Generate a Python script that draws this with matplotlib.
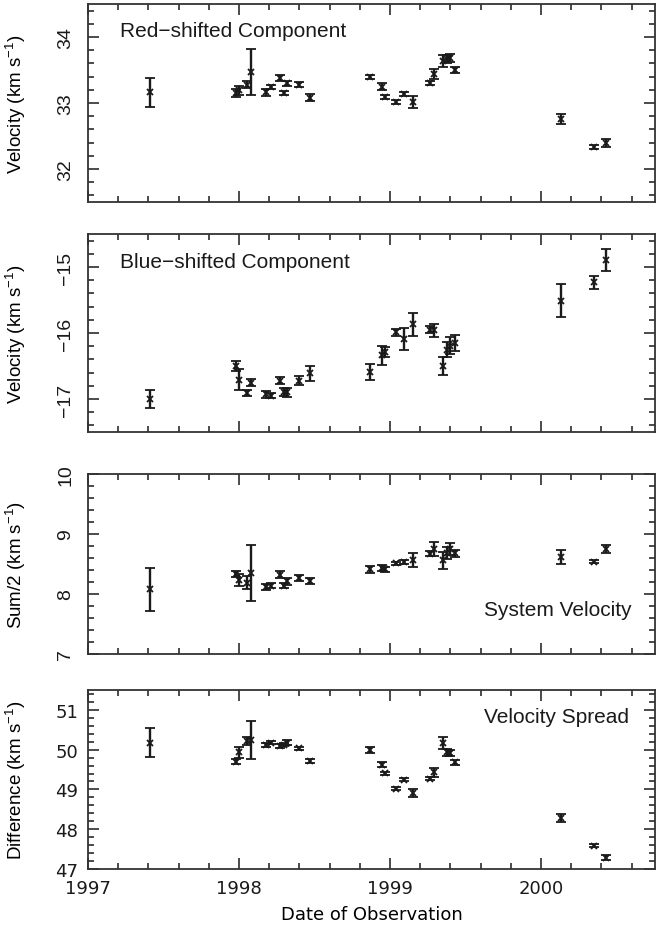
import matplotlib
matplotlib.use('Agg')
import matplotlib.pyplot as plt
from matplotlib.ticker import MultipleLocator

plt.rcParams['mathtext.default'] = 'regular'

# ---- data ----
dates = [1997.408, 1997.98, 1998.00, 1998.05, 1998.077, 1998.18, 1998.21,
         1998.27, 1998.295, 1998.32, 1998.40, 1998.47, 1998.865, 1998.945,
         1998.97, 1999.04, 1999.09, 1999.15, 1999.265, 1999.29, 1999.35,
         1999.375, 1999.40, 1999.43, 2000.13, 2000.35, 2000.43]

red = [33.16, 33.15, 33.19, 33.28, 33.47, 33.16, 33.24, 33.38, 33.15, 33.30,
       33.28, 33.08, 33.40, 33.25, 33.09, 33.02, 33.14, 33.02, 33.30, 33.44,
       33.64, 33.67, 33.68, 33.50, 32.76, 32.33, 32.39]
red_err = [0.22, 0.06, 0.07, 0.06, 0.35, 0.05, 0.03, 0.04, 0.03, 0.04, 0.04,
           0.05, 0.03, 0.05, 0.03, 0.03, 0.03, 0.09, 0.03, 0.08, 0.09, 0.06,
           0.06, 0.04, 0.08, 0.03, 0.06]

blue = [-17.00, -16.50, -16.71, -16.91, -16.75, -16.93, -16.95, -16.72, -16.90,
        -16.90, -16.72, -16.61, -16.59, -16.34, -16.29, -15.99, -16.09, -15.87,
        -15.95, -15.96, -16.50, -16.25, -16.19, -16.15, -15.51, -15.23, -14.89]
blue_err = [0.13, 0.08, 0.16, 0.05, 0.06, 0.05, 0.04, 0.05, 0.06, 0.07, 0.07,
            0.11, 0.12, 0.15, 0.08, 0.05, 0.16, 0.17, 0.05, 0.10, 0.13, 0.11,
            0.13, 0.12, 0.25, 0.10, 0.17]

sysv = [8.08, 8.33, 8.24, 8.19, 8.35, 8.11, 8.14, 8.32, 8.14, 8.21, 8.27, 8.22,
        8.41, 8.44, 8.41, 8.51, 8.53, 8.57, 8.67, 8.75, 8.56, 8.69, 8.75, 8.68,
        8.62, 8.54, 8.75]
sysv_err = [0.36, 0.05, 0.10, 0.11, 0.47, 0.05, 0.04, 0.06, 0.04, 0.06, 0.05,
            0.05, 0.06, 0.05, 0.04, 0.03, 0.03, 0.12, 0.04, 0.12, 0.14, 0.10,
            0.10, 0.06, 0.12, 0.03, 0.07]

diff = [50.18, 49.70, 49.93, 50.22, 50.24, 50.12, 50.18, 50.09, 50.12, 50.18,
        50.03, 49.72, 49.99, 49.62, 49.41, 49.02, 49.24, 48.91, 49.27, 49.43,
        50.16, 49.93, 49.91, 49.68, 48.28, 47.59, 47.28]
diff_err = [0.36, 0.06, 0.13, 0.10, 0.47, 0.05, 0.04, 0.05, 0.04, 0.06, 0.04,
            0.05, 0.07, 0.06, 0.04, 0.04, 0.04, 0.10, 0.04, 0.12, 0.15, 0.08,
            0.08, 0.06, 0.10, 0.03, 0.06]

year_ticks = [1997, 1998, 1999, 2000]
ylabels = ['Velocity (km s$^{-1}$)', 'Velocity (km s$^{-1}$)',
           'Sum/2 (km s$^{-1}$)', 'Difference (km s$^{-1}$)']
titles = ['Red\u2212shifted Component', 'Blue\u2212shifted Component',
          'System Velocity', 'Velocity Spread']

# ---- layout ----
W, H = 659, 929
fig = plt.figure(figsize=(W / 100, H / 100), dpi=100)
L, R = 88, 655
boxes = [(5, 203), (235, 433), (475, 655), (691, 870)]
ylims = [(31.5, 34.5), (-17.5, -14.5), (7, 10), (47, 51.5)]
ymajor = [1, 1, 1, 1]
yminor = [0.2, 0.2, 0.2, 0.2]
series = [(red, red_err), (blue, blue_err), (sysv, sysv_err), (diff, diff_err)]
title_pos = [(0.056, 0.865, 'left'), (0.056, 0.86, 'left'),
             (0.958, 0.25, 'right'), (0.955, 0.85, 'right')]

narrow = ['Liberation Sans', 'DejaVu Sans']
col = '#1a1a1a'

for i, ((top, bot), (vals, errs)) in enumerate(zip(boxes, series)):
    ax = fig.add_axes([L / W, 1 - bot / H, (R - L) / W, (bot - top) / H])
    ax.errorbar(dates, vals, yerr=errs, fmt='x', color=col, ms=4.5, mew=1.3,
                elinewidth=1.7, capsize=3.5, capthick=1.7)
    ax.set_xlim(1997, 2000.755)
    ax.set_ylim(*ylims[i])
    ax.xaxis.set_major_locator(plt.FixedLocator(year_ticks))
    ax.xaxis.set_minor_locator(MultipleLocator(0.2))
    ax.yaxis.set_major_locator(MultipleLocator(ymajor[i]))
    ax.yaxis.set_minor_locator(MultipleLocator(yminor[i]))
    ax.tick_params(which='both', direction='in', top=True, right=True,
                   width=1.1, colors=col)
    ax.tick_params(which='major', length=8)
    ax.tick_params(which='minor', length=4)
    for s in ax.spines.values():
        s.set_linewidth(1.3)
        s.set_color('#333333')
    if i < 3:
        ax.set_xticklabels([])
        ax.tick_params(axis='y', labelrotation=90, labelsize=14, pad=10)
        ax.yaxis.set_major_formatter(plt.FuncFormatter(
            lambda v, p: ('\u2212%d' % abs(v)) if v < 0 else '%d' % v))
        for t in ax.get_yticklabels():
            t.set_family(narrow)
            t.set_va('center')
    else:
        ax.tick_params(axis='both', labelsize=13, pad=7)
        ax.yaxis.set_major_formatter(plt.FuncFormatter(lambda v, p: '%d' % v))
        ax.set_xlabel('Date of Observation', fontsize=13, family='DejaVu Sans',
                      labelpad=6)
    ax.set_ylabel(ylabels[i], fontsize=13.5, family=narrow)
    ax.yaxis.set_label_coords(-0.106, 0.5)
    tx, ty, ha = title_pos[i]
    ax.text(tx, ty, titles[i], transform=ax.transAxes, ha=ha, va='center',
            fontsize=15, family='Liberation Sans', color=col)

fig.savefig('out.png', dpi=100)
